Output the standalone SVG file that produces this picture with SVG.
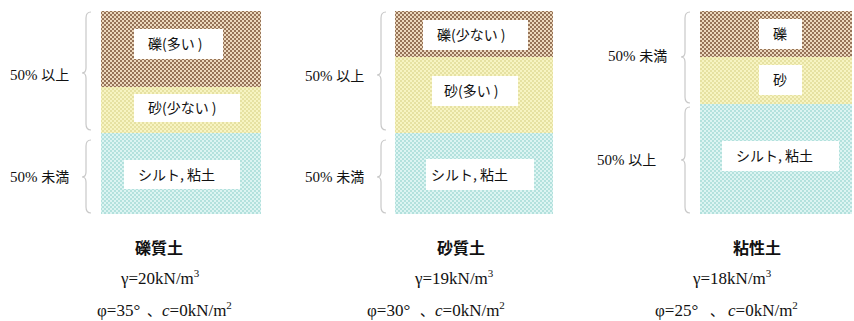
<svg xmlns="http://www.w3.org/2000/svg" width="854" height="321" viewBox="0 0 854 321">
<style>
.lbl{font-family:"Liberation Serif","Noto Sans CJK JP",serif;font-size:15px;fill:#111}
.jp{font-family:"Noto Sans CJK JP",sans-serif}
.box{fill:#fff}
.bt{font-family:"Noto Sans CJK JP",sans-serif;font-size:14px;fill:#111}
.ttl{font-family:"Noto Sans CJK JP",sans-serif;font-size:16px;font-weight:bold;fill:#111}
.prm{font-family:"Liberation Serif","Noto Sans CJK JP",serif;font-size:17px;fill:#111}
.sup{font-size:11px}
.brace{fill:none;stroke:#c8c8c8;stroke-width:1.2}
</style>
<defs>
<pattern id="gravel" width="4" height="4" patternUnits="userSpaceOnUse">
<rect width="4" height="4" fill="#ecd8bd"/>
<rect width="2" height="2" fill="#967358"/>
<rect x="2" y="2" width="2" height="2" fill="#967358"/>
</pattern>
<pattern id="sand" width="4" height="4" patternUnits="userSpaceOnUse">
<rect width="4" height="4" fill="#f7f4c2"/>
<rect width="2" height="2" fill="#e6e1a2"/>
<rect x="2" y="2" width="2" height="2" fill="#e6e1a2"/>
</pattern>
<pattern id="silt" width="4" height="4" patternUnits="userSpaceOnUse">
<rect width="4" height="4" fill="#dcf4f2"/>
<rect width="2" height="2" fill="#b3e1dd"/>
<rect x="2" y="2" width="2" height="2" fill="#b3e1dd"/>
</pattern>
</defs>
<rect width="854" height="321" fill="#fff"/>

<g id="connectors">
<path class="brace" d="M91,12 Q86,12 86,18 L86,68 Q86,73 82,73 Q86,73 86,78 L86,124 Q86,130 91,130"/>
<path class="brace" d="M91,140 Q86,140 86,146 L86,172 Q86,177 82,177 Q86,177 86,182 L86,207 Q86,213 91,213"/>
<path class="brace" d="M386,12 Q381,12 381,18 L381,70 Q381,75 377,75 Q381,75 381,80 L381,124 Q381,130 386,130"/>
<path class="brace" d="M386,140 Q381,140 381,146 L381,172 Q381,177 377,177 Q381,177 381,182 L381,207 Q381,213 386,213"/>
<path class="brace" d="M690,12 Q685,12 685,18 L685,52 Q685,57 681,57 Q685,57 685,62 L685,97 Q685,103 690,103"/>
<path class="brace" d="M690,107 Q685,107 685,113 L685,155 Q685,160 681,160 Q685,160 685,165 L685,207 Q685,213 690,213"/>
</g>

<g id="col1">
<g id="col1-gravel"><rect x="101" y="11" width="160" height="76" fill="url(#gravel)"/><rect class="box" x="134" y="29" width="89" height="30"/><text class="bt" x="148" y="49">礫(多い )</text></g>
<g id="col1-sand"><rect x="101" y="87" width="160" height="46" fill="url(#sand)"/><rect class="box" x="134" y="94" width="106" height="28"/><text class="bt" x="148" y="113">砂(少ない )</text></g>
<g id="col1-silt"><rect x="101" y="133" width="160" height="81" fill="url(#silt)"/><rect class="box" x="124" y="160" width="116" height="29"/><text class="bt" x="138" y="180">シルト, 粘土</text></g>
<text class="lbl" x="10" y="80">50% <tspan class="jp" font-size="14">以上</tspan></text>
<text class="lbl" x="10" y="182">50% <tspan class="jp" font-size="14">未満</tspan></text>
<g id="col1-props">
<text class="ttl" x="159" y="254" text-anchor="middle">礫質土</text>
<text class="prm" x="121" y="284">γ=20kN/m<tspan class="sup" dy="-7">3</tspan></text>
<text class="prm" x="97" y="316">φ=35°</text>
<text class="prm" x="147" y="316"><tspan class="jp" font-size="14">、</tspan></text>
<text class="prm" x="162" y="316"><tspan font-style="italic">c</tspan>=0kN/m<tspan class="sup" dy="-7">2</tspan></text>
</g>
</g>

<g id="col2">
<g id="col2-gravel"><rect x="395" y="11" width="158" height="46" fill="url(#gravel)"/><rect class="box" x="423" y="20" width="105" height="30"/><text class="bt" x="437" y="40">礫(少ない )</text></g>
<g id="col2-sand"><rect x="395" y="57" width="158" height="76" fill="url(#sand)"/><rect class="box" x="432" y="76" width="86" height="30"/><text class="bt" x="444" y="96">砂(多い )</text></g>
<g id="col2-silt"><rect x="395" y="133" width="158" height="81" fill="url(#silt)"/><rect class="box" x="426" y="159" width="108" height="31"/><text class="bt" x="431" y="180">シルト, 粘土</text></g>
<text class="lbl" x="305" y="81">50% <tspan class="jp" font-size="14">以上</tspan></text>
<text class="lbl" x="305" y="182">50% <tspan class="jp" font-size="14">未満</tspan></text>
<g id="col2-props">
<text class="ttl" x="461" y="254" text-anchor="middle">砂質土</text>
<text class="prm" x="415" y="284">γ=19kN/m<tspan class="sup" dy="-7">3</tspan></text>
<text class="prm" x="367" y="316">φ=30°</text>
<text class="prm" x="420" y="316"><tspan class="jp" font-size="14">、</tspan></text>
<text class="prm" x="435" y="316"><tspan font-style="italic">c</tspan>=0kN/m<tspan class="sup" dy="-7">2</tspan></text>
</g>
</g>

<g id="col3">
<g id="col3-gravel"><rect x="700" y="11" width="152" height="46" fill="url(#gravel)"/><rect class="box" x="759" y="19" width="43" height="30"/><text class="bt" x="773" y="39">礫</text></g>
<g id="col3-sand"><rect x="700" y="57" width="152" height="47" fill="url(#sand)"/><rect class="box" x="759" y="65" width="43" height="30"/><text class="bt" x="773" y="85">砂</text></g>
<g id="col3-silt"><rect x="700" y="104" width="152" height="110" fill="url(#silt)"/><rect class="box" x="722" y="141" width="117" height="30"/><text class="bt" x="736" y="161">シルト, 粘土</text></g>
<text class="lbl" x="608" y="61">50% <tspan class="jp" font-size="14">未満</tspan></text>
<text class="lbl" x="597" y="165">50% <tspan class="jp" font-size="14">以上</tspan></text>
<g id="col3-props">
<text class="ttl" x="757" y="254" text-anchor="middle">粘性土</text>
<text class="prm" x="693" y="284">γ=18kN/m<tspan class="sup" dy="-7">3</tspan></text>
<text class="prm" x="655" y="316">φ=25°</text>
<text class="prm" x="710" y="316"><tspan class="jp" font-size="14">、</tspan></text>
<text class="prm" x="728" y="316"><tspan font-style="italic">c</tspan>=0kN/m<tspan class="sup" dy="-7">2</tspan></text>
</g>
</g>
</svg>
